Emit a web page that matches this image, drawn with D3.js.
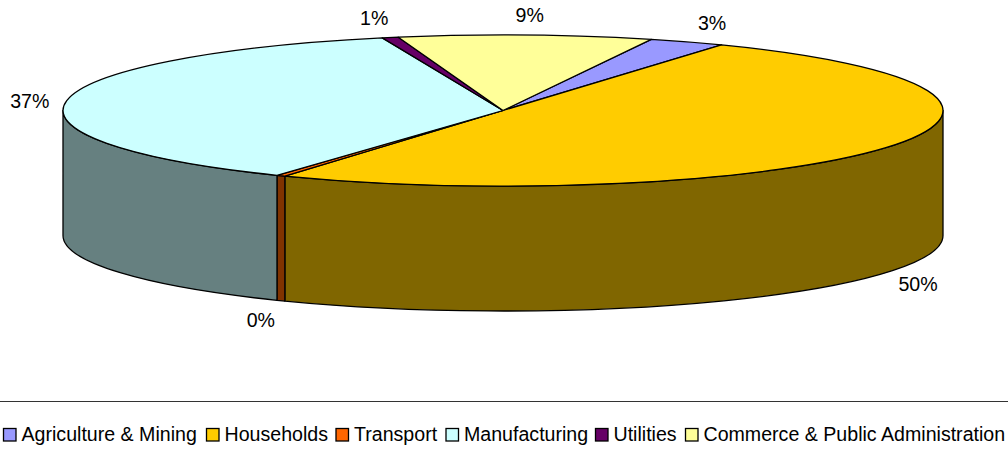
<!DOCTYPE html>
<html>
<head>
<meta charset="utf-8">
<script src="https://cdn.jsdelivr.net/npm/d3@7"></script>
<style>
  html, body { margin: 0; padding: 0; background: #fff; }
  text { font-family: "Liberation Sans", Arial, sans-serif; fill: #000; }
</style>
</head>
<body>
<div id="wrapper"></div>
<script>
// 1. Data
const categories = ["Agriculture & Mining", "Households", "Transport", "Manufacturing", "Utilities", "Commerce & Public Administration"]
const shares = [2.8, 50.0, 0.33, 37.0, 0.6, 9.3]
const shareLabels = ["3%", "50%", "0%", "37%", "1%", "9%"]
const topColors = ["#9999ff", "#ffcc00", "#ff6600", "#ccffff", "#660066", "#ffff99"]
const sideColors = ["#4d4d80", "#806600", "#803300", "#668080", "#330033", "#808040"]

// 2. Dimensions
const dimensions = { width: 1008, height: 466, left: 63, right: 943, top: 35, bottom: 186, depth: 125, ruleY: 401.5 }
const startAngle = 19.7 * Math.PI / 180

const wrapper = d3.select("#wrapper").append("svg")
  .attr("width", dimensions.width)
  .attr("height", dimensions.height)
  .style("display", "block")

// 3. Scales, unit circle onto the tilted ellipse
const xScale = d3.scaleLinear().domain([-1, 1]).range([dimensions.left, dimensions.right])
const yScale = d3.scaleLinear().domain([1, -1]).range([dimensions.top, dimensions.bottom])
const rx = (dimensions.right - dimensions.left) / 2
const ry = (dimensions.bottom - dimensions.top) / 2
const px = a => xScale(Math.sin(a))
const py = a => yScale(Math.cos(a))

const pie = d3.pie().sort(null).startAngle(startAngle).endAngle(startAngle + 2 * Math.PI)
const slices = pie(shares).map((d, i) => ({ ...d, i }))

const topPath = d => {
  const large = d.endAngle - d.startAngle > Math.PI ? 1 : 0
  return `M${xScale(0)},${yScale(0)}L${px(d.startAngle)},${py(d.startAngle)}` +
    `A${rx},${ry} 0 ${large} 1 ${px(d.endAngle)},${py(d.endAngle)}Z`
}

const wallPath = d => {
  // only the front half of the rim shows a wall
  const a0 = Math.max(d.startAngle, Math.PI / 2)
  const a1 = Math.min(d.endAngle, 3 * Math.PI / 2)
  if (a1 <= a0) return null
  const h = dimensions.depth
  return `M${px(a0)},${py(a0)}L${px(a0)},${py(a0) + h}` +
    `A${rx},${ry} 0 0 1 ${px(a1)},${py(a1) + h}` +
    `L${px(a1)},${py(a1)}A${rx},${ry} 0 0 0 ${px(a0)},${py(a0)}Z`
}

// 4. Draw the pie
const pieGroup = wrapper.append("g")
  .attr("stroke", "#000")
  .attr("stroke-width", 1.3)
  .attr("stroke-linejoin", "round")

pieGroup.selectAll(".wall")
  .data(slices.filter(d => wallPath(d)))
  .join("path")
  .attr("class", "wall")
  .attr("d", wallPath)
  .attr("fill", d => sideColors[d.i])

pieGroup.selectAll(".slice")
  .data(slices)
  .join("path")
  .attr("class", "slice")
  .attr("d", topPath)
  .attr("fill", d => topColors[d.i])

// 5. Value labels, nudged out from each slice's rim point
const labelNudge = [[25, -19], [33, 136], [-20, 144], [-37, 0], [-16, -20], [4, -20]]
wrapper.selectAll(".value-label")
  .data(slices)
  .join("text")
  .attr("class", "value-label")
  .attr("text-anchor", "middle")
  .attr("font-size", 19.6)
  .attr("x", d => px((d.startAngle + d.endAngle) / 2) + labelNudge[d.i][0])
  .attr("y", d => py((d.startAngle + d.endAngle) / 2) + labelNudge[d.i][1] + 7)
  .text(d => shareLabels[d.i])

// 6. Legend
wrapper.append("line")
  .attr("x1", 0).attr("x2", dimensions.width)
  .attr("y1", dimensions.ruleY).attr("y2", dimensions.ruleY)
  .attr("stroke", "#333")
  .attr("stroke-width", 1)

const legendX = [3.5, 206.5, 336, 446, 595.5, 685.5]
const legend = wrapper.selectAll(".legend-item")
  .data(categories)
  .join("g")
  .attr("class", "legend-item")
  .attr("transform", (d, i) => `translate(${legendX[i]},428.5)`)
legend.append("rect")
  .attr("width", 12.5).attr("height", 12.5)
  .attr("fill", (d, i) => topColors[i])
  .attr("stroke", "#000")
  .attr("stroke-width", 1.3)
legend.append("text")
  .attr("x", 18)
  .attr("y", 12.5)
  .attr("font-size", 19.6)
  .text(d => d)
</script>
</body>
</html>
